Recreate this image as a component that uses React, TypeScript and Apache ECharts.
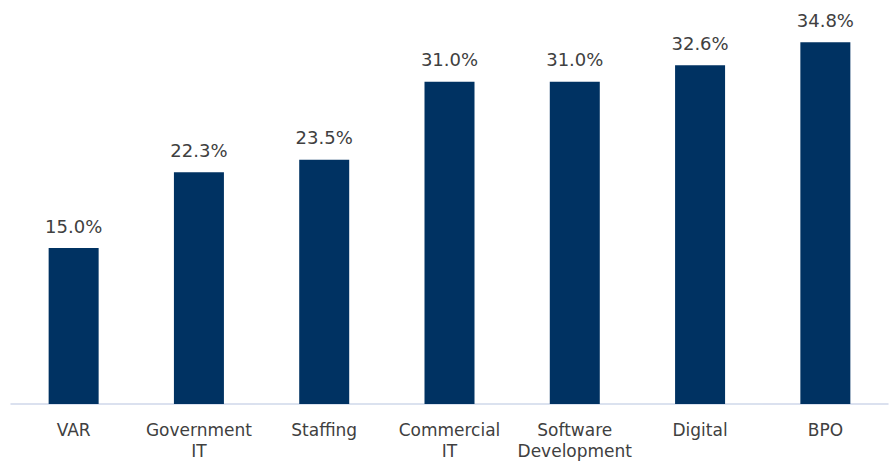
import React, { useEffect, useRef } from "react";
import * as echarts from "echarts";

const categories = ["VAR", "Government\nIT", "Staffing", "Commercial\nIT", "Software\nDevelopment", "Digital", "BPO"];
const values = [15.0, 22.3, 23.5, 31.0, 31.0, 32.6, 34.8];

export default function App() {
  const ref = useRef<HTMLDivElement>(null);
  useEffect(() => {
    if (!ref.current) return;
    const chart = echarts.init(ref.current, null, { renderer: "svg" });
    const font = "DejaVu Sans";
    chart.setOption({
      animation: false,
      grid: { left: 11, right: 3, top: 9, bottom: 58 },
      xAxis: {
        type: "category",
        data: categories,
        axisTick: { show: false },
        axisLine: { lineStyle: { color: "#cfd8ea", width: 1.5 } },
        axisLabel: {
          color: "#404040",
          fontFamily: font,
          fontSize: 17,
          lineHeight: 21,
          margin: 15,
          interval: 0,
        },
      },
      yAxis: {
        type: "value",
        min: 0,
        max: 38,
        show: false,
        splitLine: { show: false },
      },
      series: [
        {
          type: "bar",
          data: values,
          barWidth: 50,
          itemStyle: { color: "#003262" },
          label: {
            show: true,
            position: "top",
            distance: 13,
            color: "#404040",
            fontFamily: font,
            fontSize: 18,
            formatter: (p: any) => p.value.toFixed(1) + "%",
          },
        },
      ],
    });
    return () => chart.dispose();
  }, []);
  return <div ref={ref} style={{ position: "absolute", left: 0, top: 0, width: 891, height: 462 }} />;
}
